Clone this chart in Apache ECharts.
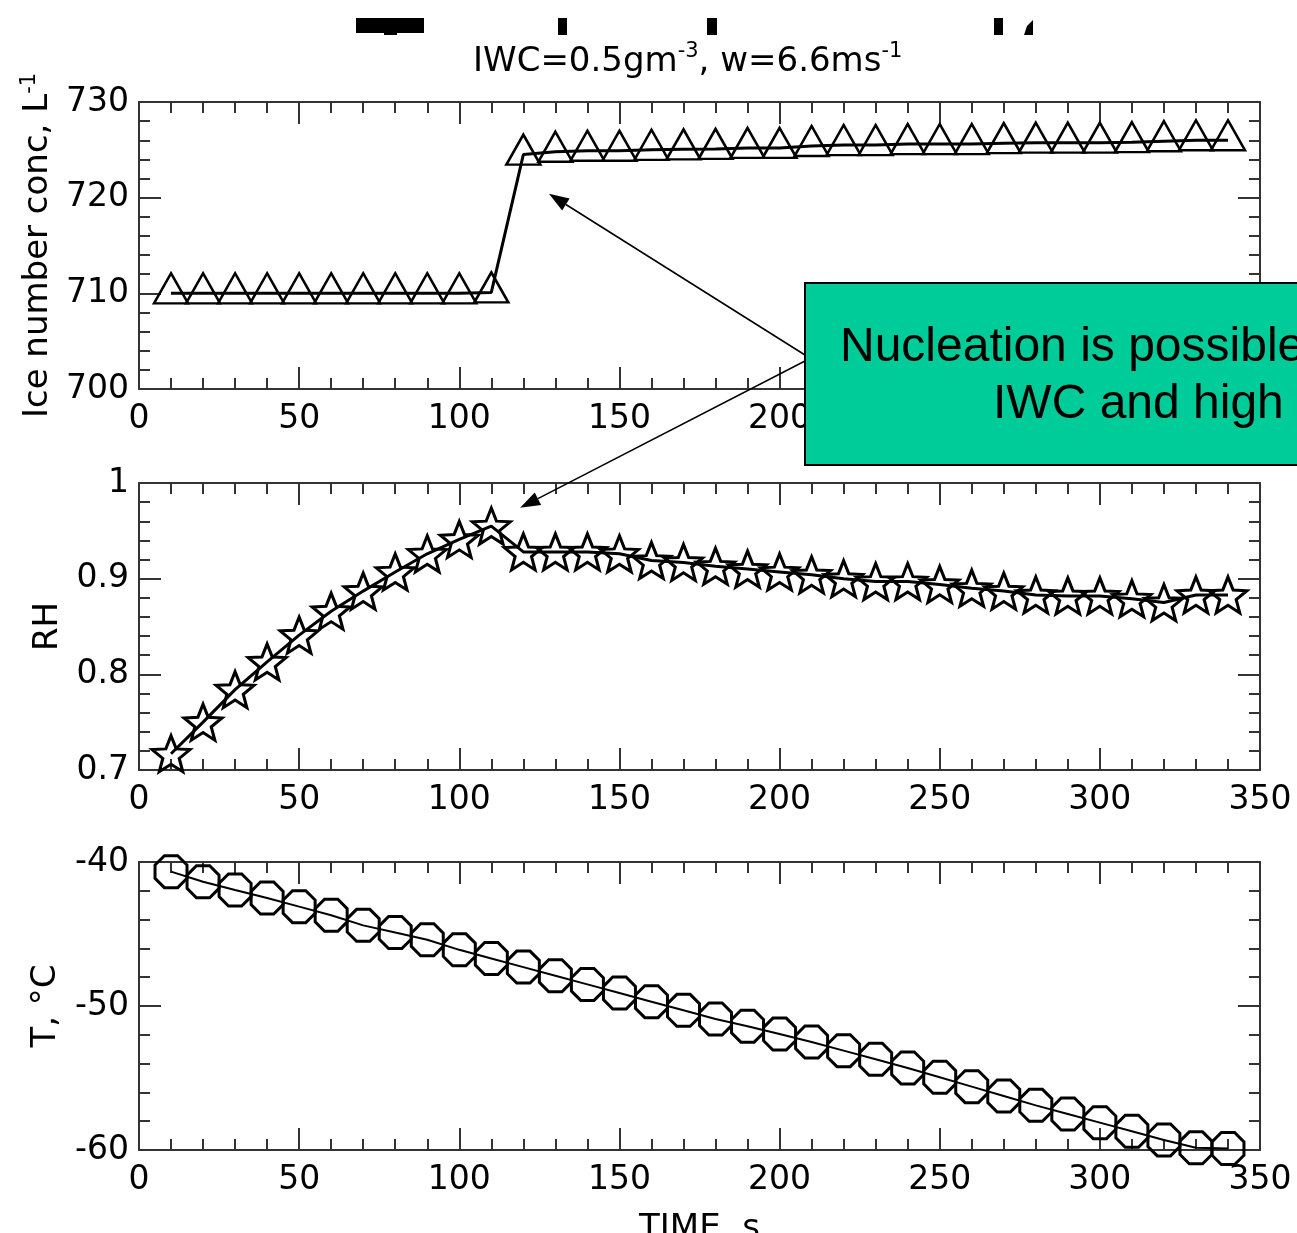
<!DOCTYPE html>
<html><head><meta charset="utf-8">
<script src="https://cdn.jsdelivr.net/npm/echarts@6/dist/echarts.min.js"></script>
<style>html,body{margin:0;padding:0;background:#fff;overflow:hidden}#c{width:1297px;height:1233px}</style>
</head><body><div id="c"></div>
<script>
// ---- data ----
const timeS = [10,20,30,40,50,60,70,80,90,100,110,120,130,140,150,160,170,180,190,200,210,220,230,240,250,260,270,280,290,300,310,320,330,340];
const iceConc = [710,710,710,710,710,710,710,710,710,710,710.1,724.5,724.8,724.9,724.9,725.0,725.05,725.1,725.2,725.2,725.4,725.5,725.5,725.6,725.6,725.6,725.7,725.75,725.75,725.75,725.8,725.9,726.0,726.0];
const relHum = [0.717,0.750,0.784,0.813,0.841,0.866,0.887,0.907,0.926,0.941,0.955,0.928,0.928,0.928,0.926,0.919,0.917,0.913,0.910,0.907,0.904,0.900,0.897,0.897,0.894,0.890,0.887,0.883,0.882,0.882,0.879,0.875,0.883,0.883];
const tempC = [-40.67,-41.37,-41.94,-42.5,-43.1,-43.7,-44.4,-44.9,-45.4,-46.1,-46.7,-47.3,-47.9,-48.5,-49.1,-49.7,-50.3,-50.9,-51.4,-51.95,-52.5,-53.1,-53.7,-54.3,-54.95,-55.6,-56.25,-56.9,-57.5,-58.1,-58.7,-59.3,-59.85,-59.9];
const xRange = [0, 350, 50];
const iceRange = [700, 730, 10];
const rhRange = [0.7, 1.0, 0.1];
const tRange = [-60, -40, 10];
const titleText = '{a|IWC=0.5gm}{s|-3}{a|, w=6.6ms}{s|-1}';
const noteLines = ['Nucleation is possible at low', 'IWC and high w'];
const arrowTipTop = [128, 720.4];
const arrowTipMid = [119, 0.974];

// ---- styles ----
const FONT = 'DejaVu Sans';
const AX = '#333';
const lbl = {fontSize: 33, fontFamily: FONT, color: '#000'};
const supRich = {
  a: {fontSize: 34, fontFamily: FONT, color: '#000'},
  s: {fontSize: 21, fontFamily: FONT, color: '#000', padding: [0, 0, 18, 0]}
};
const grids = [
  {left: 139, top: 102, width: 1121, height: 287, outerBoundsMode: 'none', containLabel: false},
  {left: 139, top: 483, width: 1121, height: 287, outerBoundsMode: 'none', containLabel: false},
  {left: 139, top: 862, width: 1121, height: 288, outerBoundsMode: 'none', containLabel: false}
];
function xAx(gi, pos, extra) {
  return Object.assign({
    type: 'value', gridIndex: gi, position: pos,
    min: xRange[0], max: xRange[1], interval: xRange[2],
    axisLine: {show: true, onZero: false, lineStyle: {color: AX, width: 2}},
    axisTick: {show: true, inside: true, length: 22, lineStyle: {color: AX, width: 2}},
    minorTick: {show: true, splitNumber: 5, length: 11, lineStyle: {color: AX, width: 2}},
    splitLine: {show: false},
    axisLabel: pos === 'bottom' ? Object.assign({show: true, margin: 14}, lbl) : {show: false}
  }, extra || {});
}
function yAx(gi, pos, r, extra) {
  return Object.assign({
    type: 'value', gridIndex: gi, position: pos,
    min: r[0], max: r[1], interval: r[2],
    axisLine: {show: true, onZero: false, lineStyle: {color: AX, width: 2}},
    axisTick: {show: true, inside: true, length: 22, lineStyle: {color: AX, width: 2}},
    minorTick: {show: true, splitNumber: 5, length: 11, lineStyle: {color: AX, width: 2}},
    splitLine: {show: false},
    axisLabel: pos === 'left' ? Object.assign({show: true, margin: 10}, lbl) : {show: false}
  }, extra || {});
}
const nameStyle = {fontSize: 34, fontFamily: FONT, color: '#000', rich: supRich};

const STAR = 'path://M0,-10 L2.6,-3.4 L9.51,-3.09 L4.1,1.4 L5.88,8.09 L0,4.3 L-5.88,8.09 L-4.1,1.4 L-9.51,-3.09 L-2.6,-3.4 Z';
const OCT = 'path://M9.24,3.83 L3.83,9.24 L-3.83,9.24 L-9.24,3.83 L-9.24,-3.83 L-3.83,-9.24 L3.83,-9.24 L9.24,-3.83 Z';
const hollow = {color: 'rgba(0,0,0,0)', borderColor: '#000', borderWidth: 2.5};

const pairs = (ys) => timeS.map((t, i) => [t, ys[i]]);

const chart = echarts.init(document.getElementById('c'), null, {renderer: 'canvas'});
chart.setOption({
  animation: false,
  backgroundColor: '#fff',
  title: {
    text: titleText, left: 468, top: 36,
    textStyle: {fontWeight: 'normal', rich: {
      a: {fontSize: 34, fontFamily: FONT, color: '#000', fontWeight: 'normal'},
      s: {fontSize: 21, fontFamily: FONT, color: '#000', fontWeight: 'normal', padding: [0, 0, 22, 0]}
    }}
  },
  grid: grids,
  xAxis: [
    xAx(0, 'bottom'), xAx(0, 'top'),
    xAx(1, 'bottom'), xAx(1, 'top'),
    xAx(2, 'bottom', {name: 'TIME, s', nameLocation: 'middle', nameGap: 62, nameTextStyle: {fontSize: 34, fontFamily: FONT, color: '#000'}}), xAx(2, 'top')
  ],
  yAxis: [
    yAx(0, 'left', iceRange, {name: '{a|Ice number conc, L}{s|-1}', nameLocation: 'middle', nameRotate: 90, nameGap: 80, nameTextStyle: nameStyle}),
    yAx(0, 'right', iceRange),
    yAx(1, 'left', rhRange, {name: 'RH', nameLocation: 'middle', nameRotate: 90, nameGap: 74, nameTextStyle: nameStyle}),
    yAx(1, 'right', rhRange),
    yAx(2, 'left', tRange, {name: 'T, °C', nameLocation: 'middle', nameRotate: 90, nameGap: 76, nameTextStyle: nameStyle}),
    yAx(2, 'right', tRange)
  ],
  series: [
    {type: 'line', xAxisIndex: 0, yAxisIndex: 0, data: pairs(iceConc),
     symbol: 'triangle', symbolSize: [34, 30], symbolOffset: [0, -5], showAllSymbol: true,
     lineStyle: {color: '#000', width: 3}, itemStyle: hollow},
    {type: 'line', xAxisIndex: 2, yAxisIndex: 2, data: pairs(relHum),
     symbol: STAR, symbolSize: [38, 36], showAllSymbol: true,
     lineStyle: {color: '#000', width: 3}, itemStyle: {color: 'rgba(0,0,0,0)', borderColor: '#000', borderWidth: 3}},
    {type: 'line', xAxisIndex: 4, yAxisIndex: 4, data: pairs(tempC),
     symbol: OCT, symbolSize: 32, showAllSymbol: true,
     lineStyle: {color: '#000', width: 2}, itemStyle: {color: 'rgba(0,0,0,0)', borderColor: '#000', borderWidth: 3}}
  ]
});

function arrow(from, tip, id) {
  const dx = from[0] - tip[0], dy = from[1] - tip[1];
  const len = Math.sqrt(dx * dx + dy * dy);
  const ux = dx / len, uy = dy / len;
  const L = 20, W = 7;
  const bx = tip[0] + ux * L, by = tip[1] + uy * L;
  return [
    {type: 'line', id: id + 'l', z: 110, shape: {x1: from[0], y1: from[1], x2: bx, y2: by}, style: {stroke: '#000', lineWidth: 1.5}},
    {type: 'polygon', id: id + 'h', z: 110, shape: {points: [tip, [bx - uy * W, by + ux * W], [bx + uy * W, by - ux * W]]}, style: {fill: '#000'}}
  ];
}
const tipA = chart.convertToPixel({gridIndex: 0}, arrowTipTop);
const tipB = chart.convertToPixel({gridIndex: 1}, arrowTipMid);
const g = [
  // clipped remnants of a larger heading above the chart
  {type: 'rect', z: 100, shape: {x: 356, y: 18, width: 68, height: 15}, style: {fill: '#000'}},
  {type: 'rect', z: 100, shape: {x: 384, y: 33, width: 13, height: 2}, style: {fill: '#000'}},
  {type: 'rect', z: 100, shape: {x: 558, y: 18, width: 9, height: 17}, style: {fill: '#000'}},
  {type: 'rect', z: 100, shape: {x: 707, y: 18, width: 10, height: 17}, style: {fill: '#000'}},
  {type: 'rect', z: 100, shape: {x: 994, y: 18, width: 9, height: 17}, style: {fill: '#000'}},
  {type: 'polygon', z: 100, shape: {points: [[1024, 35], [1033, 35], [1033, 20], [1027, 26]]}, style: {fill: '#000'}},
  // annotation box
  {type: 'rect', z: 100, shape: {x: 805, y: 283, width: 560, height: 182}, style: {fill: '#00CC99', stroke: '#000', lineWidth: 2}},
  {type: 'text', z: 101, x: 840, y: 348, style: {text: noteLines[0], font: '48px "Liberation Sans", Arial', fill: '#000', textAlign: 'left', textVerticalAlign: 'middle'}},
  {type: 'text', z: 101, x: 993, y: 405, style: {text: noteLines[1], font: '48px "Liberation Sans", Arial', fill: '#000', textAlign: 'left', textVerticalAlign: 'middle'}}
].concat(arrow([805, 355], tipA, 'a1'), arrow([805, 361], tipB, 'a2'));
chart.setOption({graphic: g});
</script>
</body></html>
